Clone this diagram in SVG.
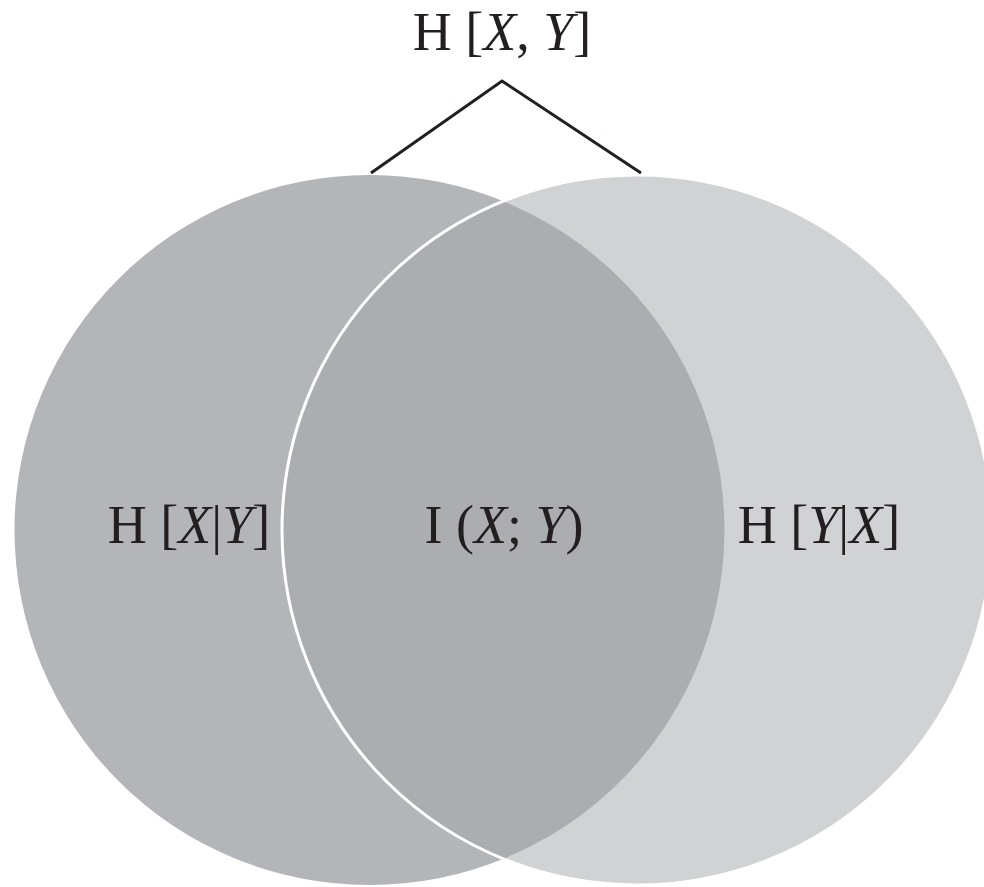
<svg xmlns="http://www.w3.org/2000/svg" width="984" height="887" viewBox="0 0 984 887">
<style>
.lbl{font-family:"Liberation Serif","Times New Roman",serif;font-size:54px;fill:#231f20;text-anchor:middle}
.it{font-style:italic}
</style>
<rect width="984" height="887" fill="#ffffff"/>
<g id="setX"><circle cx="369.5" cy="530" r="355" fill="#b4b5b9"/></g>
<g id="setY"><circle cx="637" cy="530" r="355" fill="#d1d2d4"/></g>
<g id="intersection"><path d="M503.25 201.2 A355 355 0 0 1 503.25 858.8 A355 355 0 0 1 503.25 201.2 Z" fill="#acadb1"/></g>
<g id="outline"><circle cx="637" cy="530" r="355" fill="none" stroke="#ffffff" stroke-width="3"/></g>
<g id="connectors"><polyline points="371,173 502,81 641,173" fill="none" stroke="#231f20" stroke-width="3"/></g>
<g id="HXY"><text class="lbl" x="502" y="50">H [<tspan class="it">X</tspan>, <tspan class="it">Y</tspan>]</text></g>
<g id="HXgY"><text class="lbl" x="189" y="543">H [<tspan class="it">X</tspan>|<tspan class="it">Y</tspan>]</text></g>
<g id="IXY"><text class="lbl" x="504" y="543">I (<tspan class="it">X</tspan>; <tspan class="it">Y</tspan>)</text></g>
<g id="HYgX"><text class="lbl" x="819" y="543">H [<tspan class="it">Y</tspan>|<tspan class="it">X</tspan>]</text></g>
</svg>
